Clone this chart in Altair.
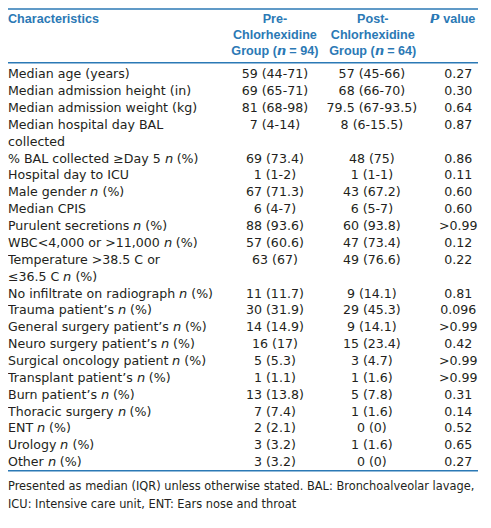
import altair as alt
import pandas as pd

# ---------------- data ----------------
characteristics = [
    "Median age (years)",
    "Median admission height (in)",
    "Median admission weight (kg)",
    "Median hospital day BAL\ncollected",
    "% BAL collected \u2265Day 5 \U0001D62F (%)",
    "Hospital day to ICU",
    "Male gender \U0001D62F (%)",
    "Median CPIS",
    "Purulent secretions \U0001D62F (%)",
    "WBC<4,000 or >11,000 \U0001D62F (%)",
    "Temperature >38.5 C or\n\u226436.5 C \U0001D62F (%)",
    "No infiltrate on radiograph \U0001D62F (%)",
    "Trauma patient\u2019s \U0001D62F (%)",
    "General surgery patient\u2019s \U0001D62F (%)",
    "Neuro surgery patient\u2019s \U0001D62F (%)",
    "Surgical oncology patient \U0001D62F (%)",
    "Transplant patient\u2019s \U0001D62F (%)",
    "Burn patient\u2019s \U0001D62F (%)",
    "Thoracic surgery \U0001D62F (%)",
    "ENT \U0001D62F (%)",
    "Urology \U0001D62F (%)",
    "Other \U0001D62F (%)",
]
pre_group = [
    "59 (44-71)", "69 (65-71)", "81 (68-98)", "7 (4-14)", "69 (73.4)",
    "1 (1-2)", "67 (71.3)", "6 (4-7)", "88 (93.6)", "57 (60.6)", "63 (67)",
    "11 (11.7)", "30 (31.9)", "14 (14.9)", "16 (17)", "5 (5.3)", "1 (1.1)",
    "13 (13.8)", "7 (7.4)", "2 (2.1)", "3 (3.2)", "3 (3.2)",
]
post_group = [
    "57 (45-66)", "68 (66-70)", "79.5 (67-93.5)", "8 (6-15.5)", "48 (75)",
    "1 (1-1)", "43 (67.2)", "6 (5-7)", "60 (93.8)", "47 (73.4)", "49 (76.6)",
    "9 (14.1)", "29 (45.3)", "9 (14.1)", "15 (23.4)", "3 (4.7)", "1 (1.6)",
    "5 (7.8)", "1 (1.6)", "0 (0)", "1 (1.6)", "0 (0)",
]
p_values = [
    "0.27", "0.30", "0.64", "0.87", "0.86", "0.11", "0.60", "0.60", ">0.99",
    "0.12", "0.22", "0.81", "0.096", ">0.99", "0.42", ">0.99", ">0.99",
    "0.31", "0.14", "0.52", "0.65", "0.27",
]
header_label = "Characteristics"
header_pre = ["Pre-", "Chlorhexidine", "Group (\U0001D663 = 94)"]
header_post = ["Post-", "Chlorhexidine", "Group (\U0001D663 = 64)"]
header_p = "\U0001D64B value"
footnote = [
    "Presented as median (IQR) unless otherwise stated. BAL: Bronchoalveolar lavage,",
    "ICU: Intensive care unit, ENT: Ears nose and throat",
]

# ---------------- layout ----------------
W, H = 470, 505
SX = 0.96
SY = 0.985
LINE0, STEP = 68.3, 17.12      # reference position of first body line and line step


def xpos(ref_x):
    return (ref_x - 2) * SX


def line_of(ref_y):
    return (ref_y - LINE0) / STEP


BLUE = "#2b79b5"
INK = "#231f20"
BODY_FONT = "DejaVu Sans"
HEAD_FONT = "Liberation Sans"
BODY_SIZE = 12.6

# explode body rows into visual lines
label_rows, value_rows = [], []
line = 0
for lab, a, b, p in zip(characteristics, pre_group, post_group, p_values):
    parts = lab.split("\n")
    value_rows.append({"line": line, "pre": a, "post": b, "p": p})
    for part in parts:
        label_rows.append({"line": line, "text": part})
        line += 1
n_lines = line

labels_df = pd.DataFrame(label_rows)
values_df = pd.DataFrame(value_rows)

head_lines = [line_of(11.7), line_of(28.3), line_of(45.0)]
header_df = pd.DataFrame({
    "line": head_lines,
    "pre": header_pre,
    "post": header_post,
})
head_left_df = pd.DataFrame({"line": [head_lines[0]], "label": [header_label], "p": [header_p]})
rules_df = pd.DataFrame({"line": [line_of(2.0), line_of(56.7), line_of(470.7)]})
foot_df = pd.DataFrame({"line": [line_of(487.0), line_of(505.5)], "text": footnote})

y_range = [(LINE0 - 1) * SY, (LINE0 + STEP * (n_lines - 1) - 1) * SY]
yscale = alt.Scale(domain=[0, n_lines - 1], range=y_range)
Y = alt.Y("line:Q", scale=yscale, axis=None)

rules = alt.Chart(rules_df).mark_rule(color=BLUE, strokeWidth=1.5).encode(
    y=Y, x=alt.value(0), x2=alt.value(W)
)


def text_layer(df, field, x, align, font=BODY_FONT, size=BODY_SIZE, color=INK, weight="normal"):
    return alt.Chart(df).mark_text(
        align=align, baseline="middle", font=font, fontSize=size,
        color=color, fontWeight=weight,
    ).encode(y=Y, x=alt.value(x), text=f"{field}:N")


layers = [
    rules,
    text_layer(head_left_df, "label", xpos(2), "left", HEAD_FONT, BODY_SIZE, BLUE, "bold"),
    text_layer(head_left_df, "p", xpos(465), "center", HEAD_FONT, BODY_SIZE, BLUE, "bold"),
    text_layer(header_df, "pre", xpos(280), "center", HEAD_FONT, BODY_SIZE, BLUE, "bold"),
    text_layer(header_df, "post", xpos(382), "center", HEAD_FONT, BODY_SIZE, BLUE, "bold"),
    text_layer(labels_df, "text", xpos(2), "left"),
    text_layer(values_df, "pre", xpos(280), "center"),
    text_layer(values_df, "post", xpos(381), "center"),
    text_layer(values_df, "p", xpos(471), "center"),
    text_layer(foot_df, "text", xpos(2), "left", size=11.4),
]

chart = alt.layer(*layers).properties(
    width=W, height=H, padding=0, autosize=alt.AutoSizeParams(type="none")
).configure_view(stroke=None)

chart.save("out.html", embed_options={"renderer": "svg", "actions": False})
